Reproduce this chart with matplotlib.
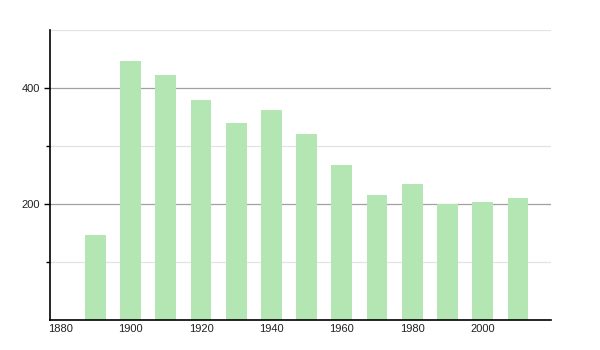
import matplotlib
matplotlib.use("Agg")
import matplotlib.pyplot as plt

years = [1890, 1900, 1910, 1920, 1930, 1940, 1950, 1960, 1970, 1980, 1990, 2000, 2010]
population = [147, 447, 423, 380, 340, 362, 320, 268, 216, 235, 200, 203, 211]
x_ticks = [1880, 1900, 1920, 1940, 1960, 1980, 2000]
y_major = [200, 400]
y_minor = [100, 300, 500]

plt.rcParams["font.family"] = ["Liberation Sans", "DejaVu Sans"]

fig = plt.figure(figsize=(6, 3.5), dpi=100)
ax = fig.add_axes([50 / 600, 30 / 350, 501 / 600, 290 / 350])

for v in y_minor:
    ax.axhline(v, color="#e3e3e3", lw=0.9, zorder=0)
for v in y_major:
    ax.axhline(v, color="#a0a0a0", lw=0.9, zorder=0)

ax.bar(years, population, width=5.9, color="#b3e6b3", zorder=2)

ax.set_xlim(1877.1, 2019.4)
ax.set_ylim(0, 500)
ax.set_xticks(x_ticks)
ax.set_yticks(y_major)
ax.set_yticks([100, 300], minor=True)
ax.tick_params(axis="x", length=0, labelsize=8, pad=3, labelcolor="#222222")
ax.tick_params(axis="y", which="major", length=4, width=1, labelsize=8, pad=3, labelcolor="#222222")
ax.tick_params(axis="y", which="minor", length=3, width=1)

for s in ["top", "right"]:
    ax.spines[s].set_visible(False)
ax.spines["left"].set_linewidth(1.2)
ax.spines["bottom"].set_linewidth(1.2)

fig.savefig("out.png", dpi=100)
